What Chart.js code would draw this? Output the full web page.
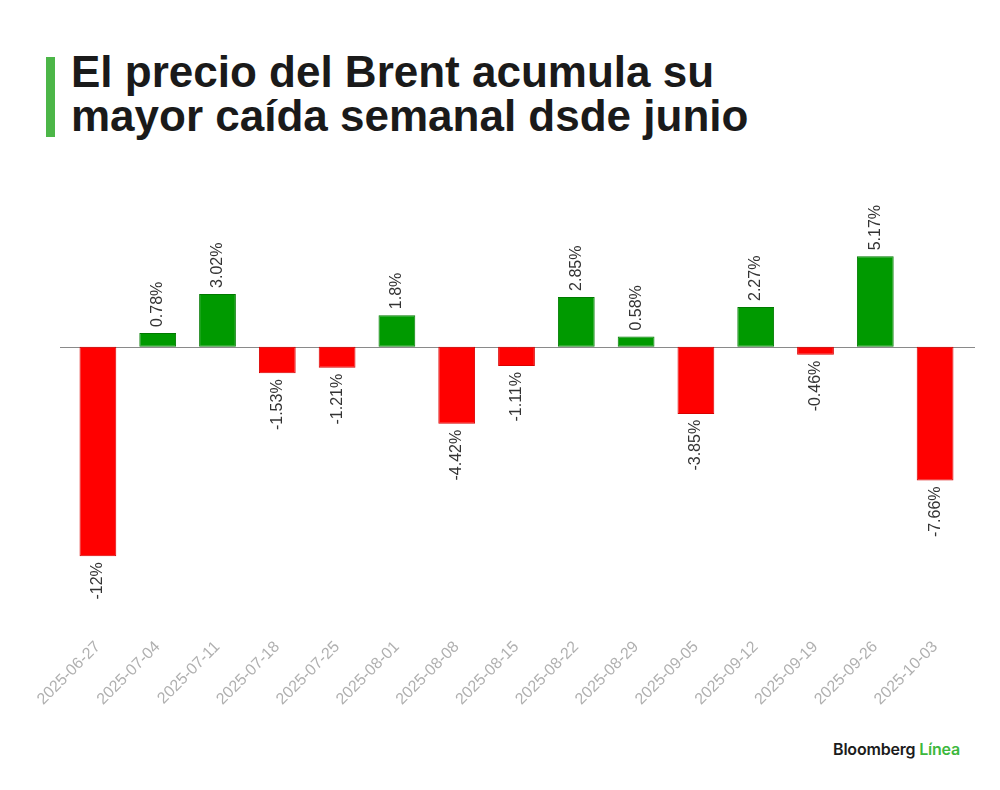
<!DOCTYPE html>
<html lang="es">
  <head>
    <meta charset="UTF-8" />
    <title>Brent semanal</title>
    <script src="https://cdn.jsdelivr.net/npm/chart.js@4.4.1/dist/chart.umd.min.js"></script>
    <style>
      html,
      body {
        margin: 0;
        padding: 0;
        background: #fff;
        width: 1000px;
        height: 790px;
        overflow: hidden;
        font-family: "Liberation Sans", Arial, sans-serif;
      }
      .title-bar {
        position: absolute;
        left: 46px;
        top: 57px;
        width: 9px;
        height: 80px;
        background: #4cb648;
      }
      h1 {
        position: absolute;
        left: 71px;
        top: 50px;
        margin: 0;
        font-size: 44px;
        line-height: 44px;
        font-weight: 700;
        letter-spacing: 0;
        color: #1a1a1a;
        white-space: nowrap;
      }
      .chart-box {
        position: absolute;
        left: 0;
        top: 170px;
        width: 1000px;
        height: 560px;
      }
      .brand {
        position: absolute;
        right: 40px;
        top: 739px;
        font-family: Inter, "Noto Sans", sans-serif;
        font-weight: 600;
        font-size: 16px;
        color: #1c1c1c;
        letter-spacing: -0.2px;
      }
      .brand span {
        color: #3db83d;
      }
    </style>
  </head>
  <body>
    <div class="title-bar"></div>
    <h1>El precio del Brent acumula su<br />mayor caída semanal dsde junio</h1>
    <div class="chart-box"><canvas id="brentChart"></canvas></div>
    <div class="brand">Bloomberg <span>Línea</span></div>

    <script>
      const weeks = [
        "2025-06-27", "2025-07-04", "2025-07-11", "2025-07-18", "2025-07-25",
        "2025-08-01", "2025-08-08", "2025-08-15", "2025-08-22", "2025-08-29",
        "2025-09-05", "2025-09-12", "2025-09-19", "2025-09-26", "2025-10-03",
      ];
      const weeklyChange = [
        -12, 0.78, 3.02, -1.53, -1.21, 1.8, -4.42, -1.11, 2.85, 0.58, -3.85,
        2.27, -0.46, 5.17, -7.66,
      ];
      const changeLabels = [
        "-12%", "0.78%", "3.02%", "-1.53%", "-1.21%", "1.8%", "-4.42%",
        "-1.11%", "2.85%", "0.58%", "-3.85%", "2.27%", "-0.46%", "5.17%",
        "-7.66%",
      ];

      const upColor = "#009a00";
      const downColor = "#ff0000";

      // zero line a bit wider than the plot area, as in the original
      const zeroLine = {
        id: "zeroLine",
        beforeDatasetsDraw(chart) {
          const { ctx, chartArea, scales } = chart;
          const y = Math.round(scales.y.getPixelForValue(0)) + 0.5;
          ctx.save();
          ctx.strokeStyle = "#8a8a8a";
          ctx.lineWidth = 1;
          ctx.beginPath();
          ctx.moveTo(chartArea.left - 8, y);
          ctx.lineTo(chartArea.right + 10, y);
          ctx.stroke();
          ctx.restore();
        },
      };

      // vertical value labels above/below each bar
      const barLabels = {
        id: "barLabels",
        afterDatasetsDraw(chart) {
          const { ctx } = chart;
          const meta = chart.getDatasetMeta(0);
          ctx.save();
          ctx.font = '16px "Liberation Sans", Arial, sans-serif';
          ctx.fillStyle = "#333";
          ctx.textBaseline = "middle";
          meta.data.forEach((bar, i) => {
            const up = weeklyChange[i] >= 0;
            ctx.save();
            ctx.translate(bar.x, up ? bar.y - 6 : bar.y + 6);
            ctx.rotate(-Math.PI / 2);
            ctx.textAlign = up ? "left" : "right";
            ctx.fillText(changeLabels[i], 0, 0);
            ctx.restore();
          });
          ctx.restore();
        },
      };

      const ctx = document.getElementById("brentChart").getContext("2d");
      new Chart(ctx, {
        type: "bar",
        data: {
          labels: weeks,
          datasets: [
            {
              data: weeklyChange,
              backgroundColor: weeklyChange.map((v) => (v >= 0 ? upColor : downColor)),
              borderColor: weeklyChange.map((v) => (v >= 0 ? "#007a00" : "#d80000")),
              borderWidth: 1,
              borderSkipped: false,
              barPercentage: 0.615,
              categoryPercentage: 1,
            },
          ],
        },
        options: {
          responsive: true,
          maintainAspectRatio: false,
          animation: false,
          layout: { padding: { top: 20, left: 68, right: 35, bottom: 21 } },
          plugins: {
            legend: { display: false },
            tooltip: { enabled: false },
          },
          scales: {
            x: {
              grid: { display: false },
              border: { display: false },
              ticks: {
                color: "#b0b0b0",
                font: { family: '"Liberation Sans", Arial, sans-serif', size: 16 },
                maxRotation: 45,
                minRotation: 45,
                padding: 0,
              },
            },
            y: {
              display: false,
              min: -16.2,
              max: 8.97,
            },
          },
        },
        plugins: [zeroLine, barLabels],
      });
    </script>
  </body>
</html>
